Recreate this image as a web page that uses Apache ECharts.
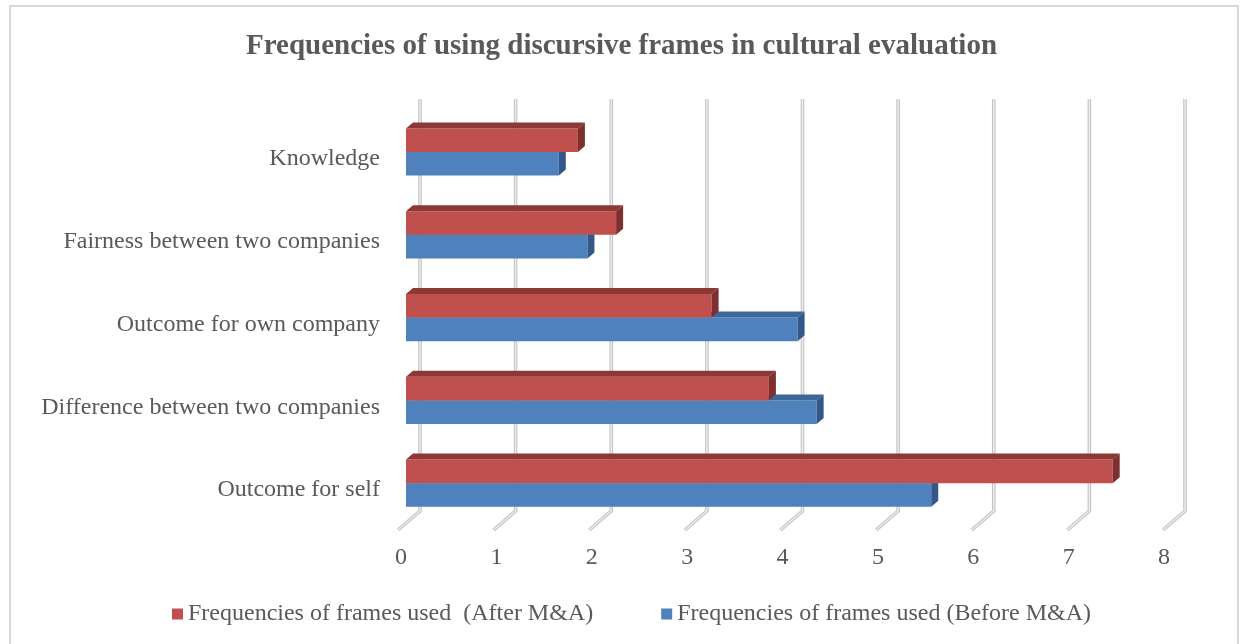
<!DOCTYPE html>
<html>
<head>
<meta charset="utf-8">
<script src="https://cdn.jsdelivr.net/npm/echarts@6/dist/echarts.min.js"></script>
<style>html,body{margin:0;padding:0;background:#fff}#c{width:1243px;height:644px}</style>
</head>
<body>
<div id="c"></div>
<script>
const categories = ['Knowledge', 'Fairness between two companies', 'Outcome for own company', 'Difference between two companies', 'Outcome for self'];
const afterMA = [1.8, 2.2, 3.2, 3.8, 7.4];
const beforeMA = [1.6, 1.9, 4.1, 4.3, 5.5];
const xTicks = [0, 1, 2, 3, 4, 5, 6, 7, 8];
const nameAfter = 'Frequencies of frames used  (After M&A)';
const nameBefore = 'Frequencies of frames used (Before M&A)';

const FONT = "'Liberation Serif', 'Times New Roman', serif";
const TXT = '#595959';

function bar3d(colors, upper) {
  return function (params, api) {
    const v = api.value(0), c = api.value(1);
    const p0 = api.coord([0, c]);
    const p1 = api.coord([v, c]);
    const band = api.size([0, 1])[1];
    const h = band * 0.285;
    const yTop = upper ? p0[1] - h : p0[1];
    const yBot = yTop + h;
    const x0 = p0[0], x1 = p1[0];
    const dx = 7, dy = 6;
    return {
      type: 'group',
      children: [
        { type: 'rect', shape: { x: x0, y: yTop, width: x1 - x0, height: h }, style: { fill: colors[0] } },
        { type: 'polygon', shape: { points: [[x0, yTop], [x0 + dx, yTop - dy], [x1 + dx, yTop - dy], [x1, yTop]] }, style: { fill: colors[1] } },
        { type: 'polygon', shape: { points: [[x1, yTop], [x1 + dx, yTop - dy], [x1 + dx, yBot - dy], [x1, yBot]] }, style: { fill: colors[2] } }
      ]
    };
  };
}

const chart = echarts.init(document.getElementById('c'));
chart.setOption({
  animation: false,
  backgroundColor: '#fff',
  title: {
    text: 'Frequencies of using discursive frames in cultural evaluation',
    left: 'center', top: 27,
    textStyle: { fontFamily: FONT, fontWeight: 'bold', fontSize: 29, color: TXT }
  },
  legend: {
    data: [nameAfter, nameBefore],
    left: 172, top: 602, padding: 0,
    icon: 'rect', itemWidth: 11, itemHeight: 11, itemGap: 68,
    textStyle: { fontFamily: FONT, fontSize: 24, color: TXT }
  },
  graphic: [{
    type: 'rect', silent: true, z: -10,
    shape: { x: 10, y: 6, width: 1228, height: 660 },
    style: { fill: 'none', stroke: '#d9d9d9', lineWidth: 2 }
  }],
  grid: [
    { left: 406, width: 764, top: 110.6, height: 414 },
    { left: 420, width: 765, top: 99, height: 412 },
    { left: 401, width: 763, top: 110.6, height: 414 }
  ],
  xAxis: [
    { type: 'value', gridIndex: 0, min: 0, max: 8, interval: 1, show: false },
    { type: 'value', gridIndex: 1, min: 0, max: 8, interval: 1, show: false },
    { type: 'value', gridIndex: 2, min: 0, max: 8, interval: 1,
      axisLine: { show: false }, axisTick: { show: false }, splitLine: { show: false },
      axisLabel: { fontFamily: FONT, fontSize: 24, color: TXT, margin: 21 } }
  ],
  yAxis: [
    { type: 'category', gridIndex: 0, data: categories, inverse: true,
      axisLine: { show: false }, axisTick: { show: false }, splitLine: { show: false },
      axisLabel: {
        margin: 26,
        formatter: function (v) { return '{a|' + v + '}'; },
        rich: { a: { fontFamily: FONT, fontSize: 24, color: TXT, padding: [14, 0, 0, 0] } }
      } },
    { type: 'value', gridIndex: 1, min: 0, max: 1, show: false },
    { type: 'value', gridIndex: 2, min: 0, max: 1, show: false }
  ],
  series: [
    {
      type: 'custom', xAxisIndex: 1, yAxisIndex: 1, silent: true, clip: false, z: 1,
      data: xTicks.map(v => [v]),
      renderItem: function (params, api) {
        const v = api.value(0);
        const top = api.coord([v, 1]);
        const bot = api.coord([v, 0]);
        const pts = [top, bot, [bot[0] - 22, bot[1] + 19]];
        return {
          type: 'group',
          children: [
            { type: 'polyline', shape: { points: pts }, style: { stroke: '#c4c4c4', lineWidth: 3.6, fill: 'none', lineJoin: 'miter' } },
            { type: 'polyline', shape: { points: pts }, style: { stroke: '#ededed', lineWidth: 1.4, fill: 'none', lineJoin: 'miter' } }
          ]
        };
      }
    },
    {
      name: nameBefore, type: 'custom', xAxisIndex: 0, yAxisIndex: 0, clip: false, z: 2,
      itemStyle: { color: '#4F81BD' },
      encode: { x: 0, y: 1 },
      data: beforeMA.map((v, i) => [v, i]),
      renderItem: bar3d(['#4F81BD', '#3D6798', '#34578A'], false)
    },
    {
      name: nameAfter, type: 'custom', xAxisIndex: 0, yAxisIndex: 0, clip: false, z: 3,
      itemStyle: { color: '#C0504D' },
      encode: { x: 0, y: 1 },
      data: afterMA.map((v, i) => [v, i]),
      renderItem: bar3d(['#C0504D', '#8E3835', '#7D302E'], true)
    }
  ]
});
</script>
</body>
</html>
